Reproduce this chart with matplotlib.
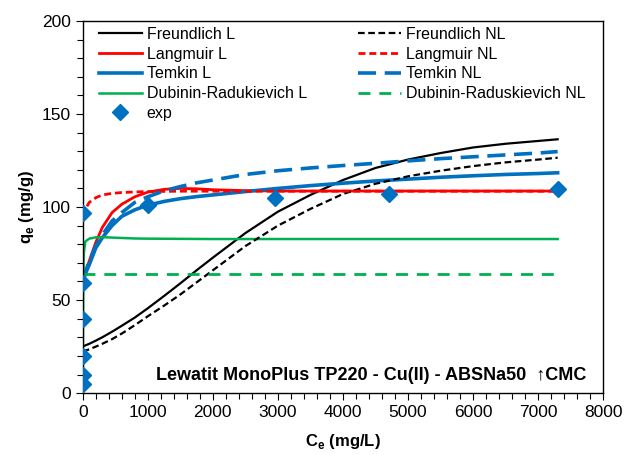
import matplotlib
matplotlib.use("Agg")
import matplotlib.pyplot as plt
from matplotlib.ticker import MultipleLocator

plt.rcParams["font.family"] = ["Liberation Sans", "DejaVu Sans"]

x_fit = [0, 50, 100, 200, 300, 450, 600, 800, 1000, 1250, 1500, 1750, 2000,
         2500, 3000, 3500, 4000, 4500, 5000, 5500, 6000, 6500, 7000, 7300]

freundlich_l = [25, 25.8, 26.5, 28.2, 30, 33, 36.2, 40.6, 45.6, 52.2, 59, 66, 72.8,
                86, 97.5, 106.5, 114.5, 121, 125.5, 129, 132, 134, 135.5, 136.4]
freundlich_nl = [22.5, 23, 23.5, 25, 26.5, 29, 32, 36.5, 41.3, 47, 53, 59.5, 66,
                 79, 90, 99, 107, 112.5, 116.5, 119.5, 122, 124, 125.5, 126.5]
langmuir_l = [60, 66, 71, 81, 89, 97, 101.5, 105.5, 108, 109.5, 110, 109.8, 109.3,
              108.8, 108.6, 108.6, 108.6, 108.6, 108.6, 108.6, 108.6, 108.6, 108.6, 108.6]
langmuir_nl = [95, 99.5, 102.5, 105, 106.5, 107.3, 107.8, 108.1, 108.3, 108.4, 108.5, 108.5, 108.5,
               108.5, 108.5, 108.5, 108.5, 108.5, 108.5, 108.5, 108.5, 108.5, 108.5, 108.5]
temkin_l = [60, 65, 69, 78, 83.5, 90, 95, 98.5, 101, 103, 104.5, 105.6, 106.5,
            108.3, 110, 111.5, 112.8, 114, 115, 116, 116.8, 117.5, 118, 118.4]
temkin_nl = [60, 66, 71, 79, 85, 92.5, 97, 102.5, 105.5, 108.7, 111, 113, 114.5,
             117.5, 119.5, 121, 122.3, 123.5, 124.8, 126, 127, 128, 129, 129.8]

# Dubinin-Radushkevich curves
dr_l_x = [0, 1, 2, 4, 8, 15, 40, 100, 200, 300, 500, 800, 1000, 2000, 3000, 4700, 7300]
dr_l_y = [5, 10, 20, 40, 60, 75, 81.5, 83, 83.7, 83.8, 83.5, 83.1, 83, 82.8, 82.8, 82.8, 82.8]
dr_nl_x = [0, 7300]
dr_nl_y = [64, 64]

# experimental points
exp_x = [0, 0, 0, 0, 0, 0, 1000, 2950, 4700, 7300]
exp_y = [5, 10, 20, 40, 59, 97, 101, 105, 107, 109.5]

BLUE = "#0070C0"
RED = "#FF0000"
GREEN = "#00B050"

fig = plt.figure(figsize=(6.27, 4.55), dpi=100)
ax = fig.add_axes([0.132, 0.136, 0.830, 0.818])

ax.plot(x_fit, freundlich_l, color="black", lw=1.6, label="Freundlich L")
ax.plot(x_fit, langmuir_l, color=RED, lw=2.0, label="Langmuir L")
ax.plot(x_fit, temkin_l, color=BLUE, lw=2.6, label="Temkin L")
ax.plot(dr_l_x, dr_l_y, color=GREEN, lw=1.8, label="Dubinin-Radukievich L")
ax.plot(exp_x, exp_y, ls="none", marker="D", ms=8, color=BLUE, label="exp", zorder=5)
ax.plot(x_fit, freundlich_nl, color="black", lw=1.6, dashes=(3, 1.6), label="Freundlich NL")
ax.plot(x_fit, langmuir_nl, color=RED, lw=2.0, dashes=(2.5, 1.4), label="Langmuir NL")
ax.plot(x_fit, temkin_nl, color=BLUE, lw=2.6, dashes=(5, 2.4), label="Temkin NL")
ax.plot(dr_nl_x, dr_nl_y, color=GREEN, lw=2.0, dashes=(4.3, 3.2), label="Dubinin-Raduskievich NL")

ax.set_xlim(0, 8000)
ax.set_ylim(0, 200)
ax.xaxis.set_major_locator(MultipleLocator(1000))
ax.xaxis.set_minor_locator(MultipleLocator(200))
ax.yaxis.set_major_locator(MultipleLocator(50))
ax.yaxis.set_minor_locator(MultipleLocator(10))
ax.tick_params(which="major", direction="out", length=5, width=0.8, labelsize=12.5)
ax.tick_params(which="minor", direction="out", length=4, width=0.8)
for s in ax.spines.values():
    s.set_linewidth(1.0)

ax.set_xlabel("C$_\\mathregular{e}$ (mg/L)", fontsize=12, fontweight="bold", labelpad=9)
ax.set_ylabel("q$_\\mathregular{e}$ (mg/g)", fontsize=12, fontweight="bold")

ax.text(0.968, 0.048, "Lewatit MonoPlus TP220 - Cu(II) - ABSNa50  \u2191CMC",
        transform=ax.transAxes, ha="right", va="center", fontsize=13, fontweight="bold")

ax.legend(ncol=2, loc="upper left", bbox_to_anchor=(0.012, 1.01), frameon=False,
          fontsize=11.5, handlelength=2.7, handletextpad=0.3, labelspacing=0.3,
          columnspacing=3.2, borderaxespad=0.2)

fig.savefig("out.png", dpi=100)
